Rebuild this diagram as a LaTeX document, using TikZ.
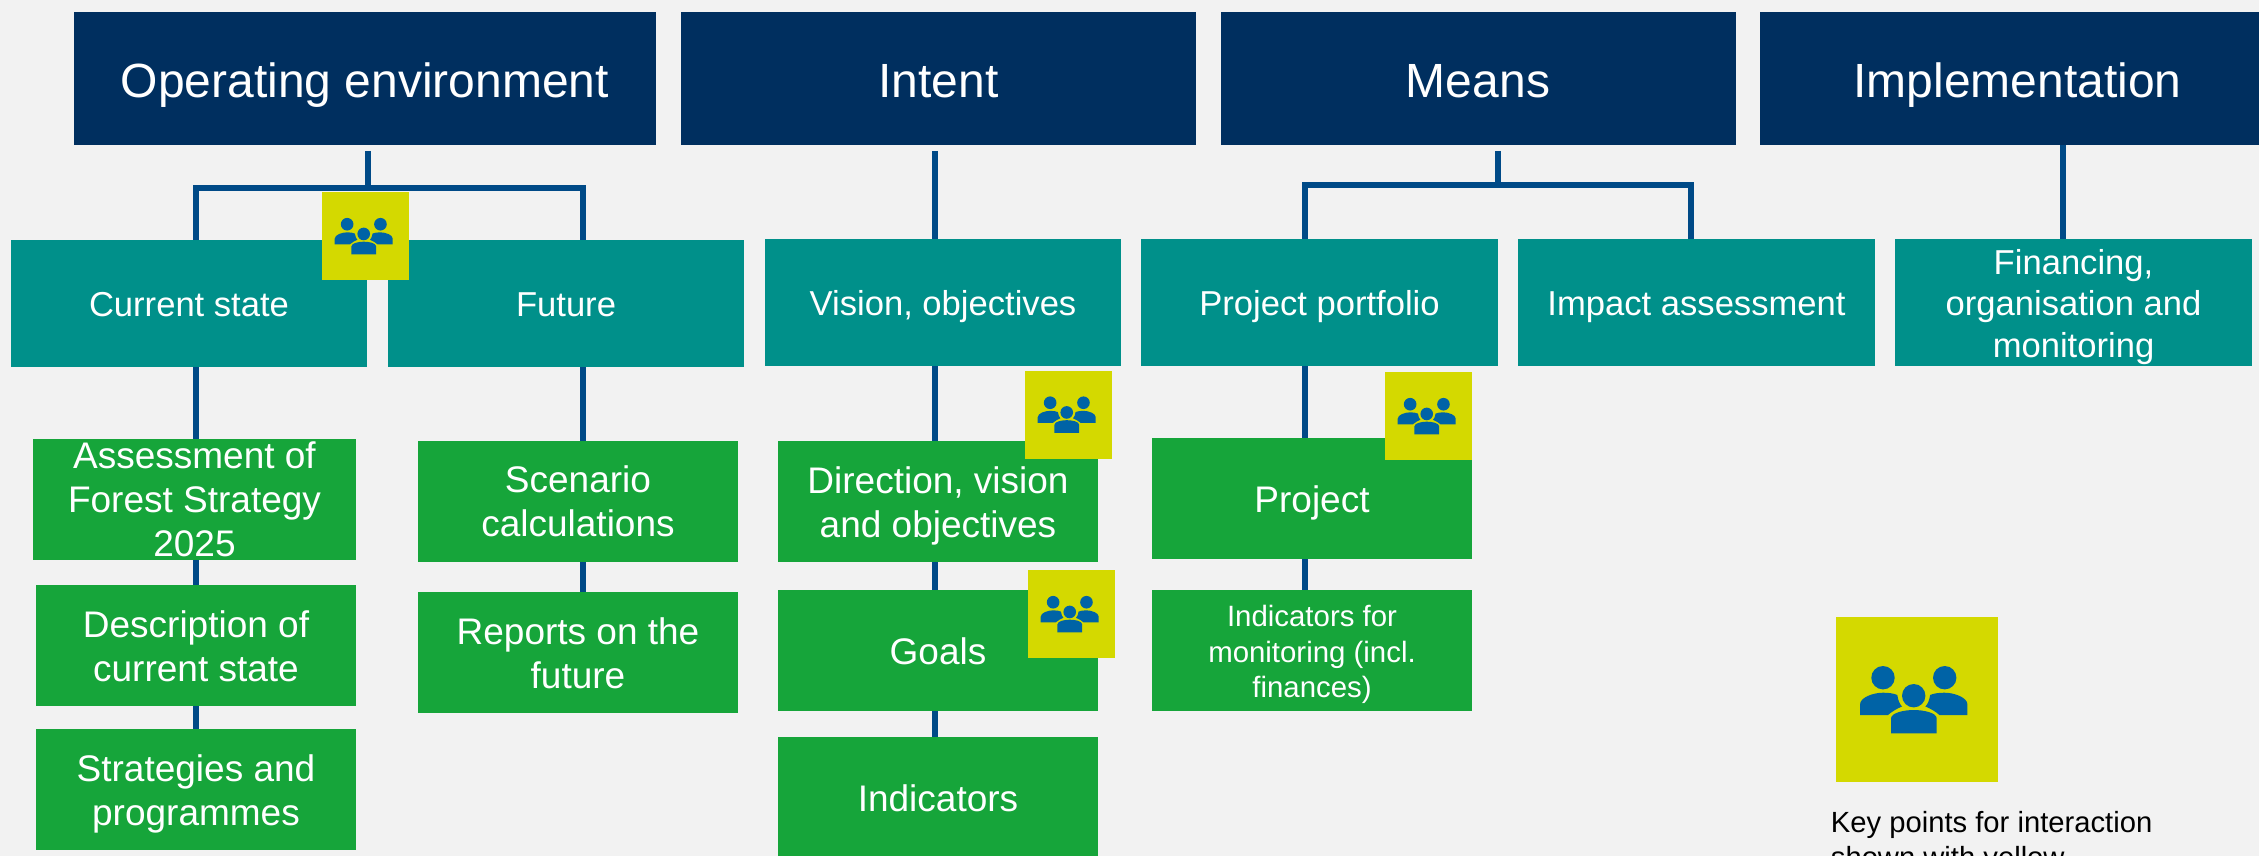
\documentclass[tikz,border=0pt]{standalone}
\usepackage{fontspec}
\setmainfont{Liberation Sans}

\definecolor{bgcol}{HTML}{F2F2F2}
\definecolor{headcol}{HTML}{002F5F}
\definecolor{tealcol}{HTML}{00908A}
\definecolor{greencol}{HTML}{16A53A}
\definecolor{keycol}{HTML}{D4D900}
\definecolor{linkcol}{HTML}{004A87}
\definecolor{iconcol}{HTML}{0063A6}

\tikzset{
  % text height sets how far the last baseline lies below the middle of the box
  lastline/.style={text height=#1,text depth=0pt},
  anybox/.style={text=white,inner sep=0pt,align=center},
  headbox/.style={anybox,lastline=18.6pt,fill=headcol,minimum height=66.5pt,minimum width=257.5pt,font=\fontsize{24}{29}\selectfont},
  tealbox/.style={anybox,lastline=13.4pt,fill=tealcol,minimum height=63.5pt,minimum width=178.25pt,font=\fontsize{17.3}{20.9}\selectfont},
  greenbox/.style={anybox,lastline=14.2pt,fill=greencol,minimum height=60.5pt,minimum width=160pt,font=\fontsize{18.5}{22}\selectfont},
  keybox/.style={fill=keycol,inner sep=0pt,minimum width=43.5pt,minimum height=44pt},
  link/.style={draw=linkcol,line width=3pt},
  pics/people/.style={code={
    \fill[iconcol] (-34,-21.8) circle[radius=11.7] (27.7,-21.8) circle[radius=11.7] (-3.3,-3.8) circle[radius=11.7];
    \fill[iconcol] (-26,33.8) -- (-26,19) .. controls (-26,13) and (-12,10.5) .. (-3.3,10.5) .. controls (6,10.5) and (19.7,13) .. (19.7,19) -- (19.7,33.8) -- cycle;
    \fill[iconcol] (-57,15.5) -- (-57,5) .. controls (-57,-2) and (-44,-6.8) .. (-34,-6.8) .. controls (-28,-6.8) and (-23,-6) .. (-19.7,-4.5) .. controls (-19,1) and (-17,5) .. (-15,7) .. controls (-20,9) and (-25,12) .. (-29,15.5) -- cycle;
    \fill[iconcol] (50.4,15.5) -- (50.4,5) .. controls (50.4,-2) and (37.4,-6.8) .. (27.4,-6.8) .. controls (21.4,-6.8) and (16.4,-6) .. (13.1,-4.5) .. controls (12.4,1) and (10.4,5) .. (8.4,7) .. controls (13.4,9) and (18.4,12) .. (22.4,15.5) -- cycle;
  }}
}

\begin{document}
\begin{tikzpicture}[x=.5pt,y=-.5pt]
  \path[fill=bgcol,use as bounding box] (0,0) rectangle (2259,856);

  % top row
  \node[headbox,minimum width=291pt] (oe) at (365,78.5) {Operating environment};
  \node[headbox] (ie) at (938.5,78.5) {Intent};
  \node[headbox] (me) at (1478,78.5) {Means};
  \node[headbox] (ip) at (2017.5,78.5) {Implementation};

  % second row
  \node[tealbox] (cs) at (189,303.5) {Current state};
  \node[tealbox] (fu) at (566,303.5) {Future};
  \node[tealbox] (vo) at (943,302.5) {Vision, objectives};
  \node[tealbox] (pp) at (1319.5,302.5) {Project portfolio};
  \node[tealbox] (ia) at (1696.5,302.5) {Impact assessment};
  \node[tealbox,lastline=55.2pt] (fo) at (2073.5,302.5) {Financing,\\organisation and\\monitoring};

  % green boxes
  \node[greenbox,lastline=56.8pt,minimum width=161.5pt] (as) at (194.5,499.5) {Assessment of\\Forest Strategy\\2025};
  \node[greenbox,lastline=36.2pt] (ds) at (196,645.5) {Description of\\current state};
  \node[greenbox,lastline=36.2pt] (sp) at (196,789.5) {Strategies and\\programmes};
  \node[greenbox,lastline=35pt] (sc) at (578,501.5) {Scenario\\calculations};
  \node[greenbox,lastline=36.2pt] (rp) at (578,652.5) {Reports on the\\future};
  \node[greenbox,lastline=36.2pt] (dv) at (938,501.5) {Direction, vision\\and objectives};
  \node[greenbox] (go) at (938,650.5) {Goals};
  \node[greenbox] (in) at (938,797.5) {Indicators};
  \node[greenbox] (pj) at (1312,498.5) {Project};
  \node[greenbox,lastline=46.8pt,font=\fontsize{14.7}{17.6}\selectfont] (im) at (1312,650.5) {Indicators for\\monitoring (incl.\\finances)};

  % links
  \coordinate (oetop) at (368,151);
  \coordinate (oebar) at (368,188);
  \coordinate (ietop) at (935,151);
  \coordinate (metop) at (1497.5,151);
  \coordinate (mebar) at (1497.5,185);
  \draw[link] (oetop) -- (oebar);
  \draw[link] (196,0 |- cs.north) |- (oebar) -| (583,0 |- fu.north);
  \draw[link] (ietop) -- (ietop |- vo.north);
  \draw[link] (metop) -- (mebar);
  \draw[link] (1305,0 |- pp.north) |- (mebar) -| (1691,0 |- ia.north);
  \draw[link] (2063,0 |- ip.south) -- (2063,0 |- fo.north);
  \foreach \a/\b/\x in {cs/as/196,as/ds/196,ds/sp/196,fu/sc/583,sc/rp/583,vo/dv/935,dv/go/935,go/in/935,pp/pj/1305,pj/im/1305}
    \draw[link] (\x,0 |- \a.south) -- (\x,0 |- \b.north);

  % yellow squares
  \node[keybox] (k1) at (365.5,236) {};
  \node[keybox] (k2) at (1068.5,414.5) {};
  \node[keybox] (k3) at (1428.5,416) {};
  \node[keybox] (k4) at (1071.5,614) {};
  \node[keybox,minimum width=81pt,minimum height=82.5pt] (k5) at (1917,699.5) {};
  \foreach \k in {k1,k2,k3,k4}
    \pic[scale=.54] at (\k) {people};
  \pic at (k5) {people};

  \node[anchor=north west,inner sep=0pt,align=left,font=\fontsize{14.6}{17.6}\selectfont] (kt) at (1830.5,810.5) {Key points for interaction\\shown with yellow};
\end{tikzpicture}
\end{document}
